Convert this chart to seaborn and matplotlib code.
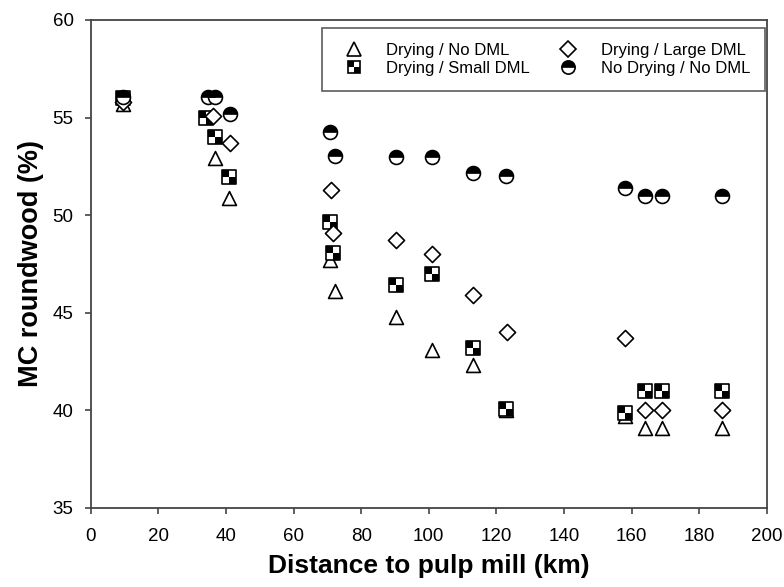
import matplotlib
matplotlib.use("Agg")
import matplotlib.pyplot as plt
import seaborn as sns
import pandas as pd
import numpy as np
from matplotlib.path import Path
from matplotlib.lines import Line2D
from matplotlib.legend_handler import HandlerTuple

# ---- data ----
tri_x = [9.6, 36.8, 40.9, 70.8, 72.3, 90.3, 100.9, 113.2, 122.8, 158.1, 164.0, 168.9, 186.7]
tri_y = [55.7, 52.9, 50.9, 47.7, 46.1, 44.8, 43.1, 42.3, 40.0, 39.7, 39.1, 39.1, 39.1]

chk_x = [9.6, 34.0, 36.8, 40.9, 70.8, 71.7, 90.3, 100.9, 113.2, 122.8, 158.1, 164.0, 168.9, 186.7]
chk_y = [56.0, 55.0, 54.0, 51.95, 49.65, 48.05, 46.4, 47.0, 43.2, 40.05, 39.85, 41.0, 41.0, 41.0]

dia_x = [9.6, 36.2, 41.2, 71.0, 71.7, 90.3, 100.9, 113.2, 123.1, 158.1, 164.0, 168.9, 186.7]
dia_y = [55.8, 55.1, 53.7, 51.3, 49.1, 48.7, 48.0, 45.9, 44.0, 43.7, 40.0, 40.0, 40.0]

cir_x = [9.6, 34.7, 36.8, 41.2, 70.8, 72.3, 90.3, 100.9, 113.2, 122.8, 158.1, 164.0, 168.9, 186.7]
cir_y = [56.05, 56.05, 56.05, 55.2, 54.25, 53.05, 53.0, 53.0, 52.15, 52.0, 51.4, 51.0, 51.0, 51.0]

labels = ["Drying / No DML", "Drying / Small DML", "Drying / Large DML", "No Drying / No DML"]

x_ticks = [0, 20, 40, 60, 80, 100, 120, 140, 160, 180, 200]
y_ticks = [35, 40, 45, 50, 55, 60]

df_tri = pd.DataFrame({"x": tri_x, "y": tri_y})
df_chk = pd.DataFrame({"x": chk_x, "y": chk_y})
df_dia = pd.DataFrame({"x": dia_x, "y": dia_y})
df_cir = pd.DataFrame({"x": cir_x, "y": cir_y})

# ---- custom marker paths ----
M, L, C = Path.MOVETO, Path.LINETO, Path.CLOSEPOLY
quad_path = Path(
    [(-1, 0), (0, 0), (0, 1), (-1, 1), (-1, 0),
     (0, -1), (1, -1), (1, 0), (0, 0), (0, -1)],
    [M, L, L, L, C, M, L, L, L, C])
arc = Path.arc(0, 180)
half_verts = list(arc.vertices) + [(1, 0)]
half_codes = [M] + [Path.CURVE4] * (len(arc.vertices) - 1) + [C]
half_path = Path(half_verts, half_codes)

# ---- figure ----
sns.set_style("white")
plt.rcParams["font.family"] = ["Liberation Sans", "DejaVu Sans"]
plt.rcParams["text.color"] = "black"
plt.rcParams["axes.labelcolor"] = "black"
plt.rcParams["xtick.color"] = "black"
plt.rcParams["ytick.color"] = "black"
fig = plt.figure(figsize=(7.84, 5.87), dpi=100)
ax = fig.add_axes([0.1157, 0.135, 0.8625, 0.831])

lw = 1.2
s_tri, s_sq, s_dia, s_cir = 100, 88, 67, 100

sns.scatterplot(data=df_tri, x="x", y="y", ax=ax, marker="^", s=s_tri,
                facecolor="white", edgecolor="black", linewidth=lw, zorder=3)
sns.scatterplot(data=df_chk, x="x", y="y", ax=ax, marker="s", s=s_sq,
                facecolor="white", edgecolor="black", linewidth=lw, zorder=4)
sns.scatterplot(data=df_chk, x="x", y="y", ax=ax, marker=quad_path, s=s_sq,
                facecolor="black", edgecolor="black", linewidth=0, zorder=4)
sns.scatterplot(data=df_dia, x="x", y="y", ax=ax, marker="D", s=s_dia,
                facecolor="white", edgecolor="black", linewidth=lw, zorder=5)
sns.scatterplot(data=df_cir, x="x", y="y", ax=ax, marker="o", s=s_cir,
                facecolor="white", edgecolor="black", linewidth=lw, zorder=6)
sns.scatterplot(data=df_cir, x="x", y="y", ax=ax, marker=half_path, s=s_cir,
                facecolor="black", edgecolor="black", linewidth=0.5, zorder=6)

ax.set_xlim(0, 200)
ax.set_ylim(35, 60)
ax.set_xticks(x_ticks)
ax.set_yticks(y_ticks)
ax.tick_params(axis="both", direction="out", length=4.3, width=1.2, color="#444444",
               labelsize=13.5, labelcolor="black", bottom=True, left=True,
               top=False, right=False, pad=8)
ax.tick_params(axis="x", pad=10)
for sp in ax.spines.values():
    sp.set_visible(True)
    sp.set_color("#444444")
    sp.set_linewidth(1.3)

ax.set_xlabel("Distance to pulp mill (km)", fontsize=19, fontweight="bold",
              labelpad=7, color="black")
ax.set_ylabel("MC roundwood (%)", fontsize=19.5, fontweight="bold",
              labelpad=6, color="black")

# ---- legend ----
ms_tri, ms_sq, ms_dia, ms_cir = 9.5, 8.5, 7.8, 9.5
h_tri = Line2D([], [], ls="", marker="^", ms=ms_tri, mfc="white", mec="black", mew=lw)
h_sq1 = Line2D([], [], ls="", marker="s", ms=ms_sq, mfc="white", mec="black", mew=lw)
h_sq2 = Line2D([], [], ls="", marker=quad_path, ms=ms_sq, mfc="black", mec="black", mew=0)
h_dia = Line2D([], [], ls="", marker="D", ms=ms_dia, mfc="white", mec="black", mew=lw)
h_cir1 = Line2D([], [], ls="", marker="o", ms=ms_cir, mfc="white", mec="black", mew=lw)
h_cir2 = Line2D([], [], ls="", marker=half_path, ms=ms_cir, mfc="black", mec="black", mew=0.5)

leg = ax.legend([h_tri, (h_sq1, h_sq2), h_dia, (h_cir1, h_cir2)], labels,
                handler_map={tuple: HandlerTuple(ndivide=1)},
                ncol=2, loc="upper left", bbox_to_anchor=(0.342, 0.9836),
                frameon=True, fancybox=False, fontsize=12,
                borderpad=0.9, labelspacing=0.2, handlelength=2.0, handletextpad=0.97,
                columnspacing=1.28, borderaxespad=0)
leg.get_frame().set_edgecolor("#333333")
leg.get_frame().set_linewidth(1.2)
for t in leg.get_texts():
    t.set_color("black")

fig.savefig("out.png", dpi=100)
